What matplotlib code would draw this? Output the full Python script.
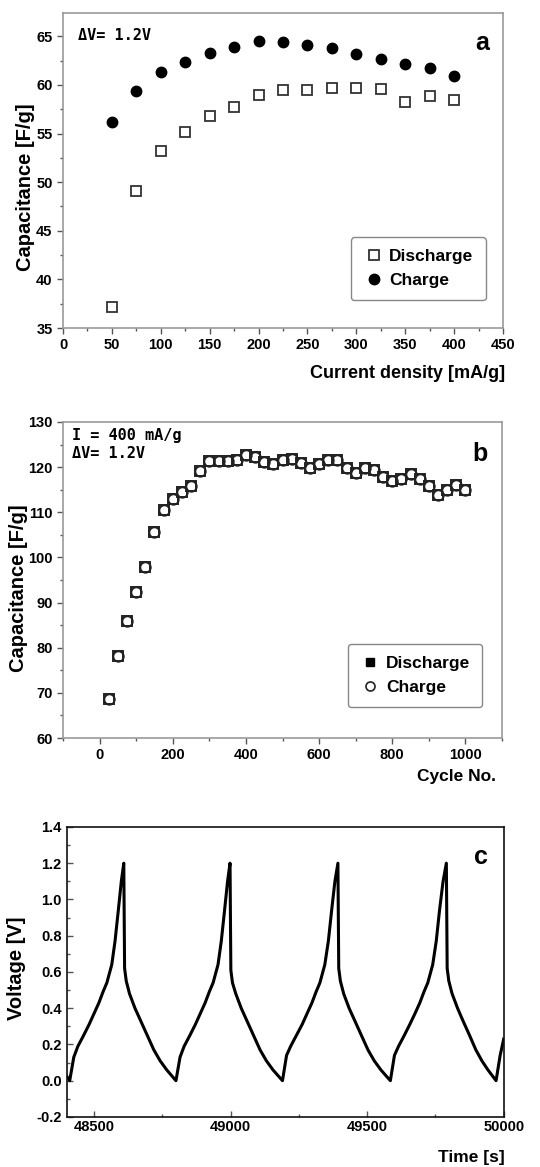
import matplotlib
matplotlib.use('Agg')
from matplotlib import pyplot as plt
from matplotlib.lines import Line2D
from matplotlib.ticker import MultipleLocator, FormatStrFormatter

plt.rcParams['font.family'] = ['Liberation Sans', 'DejaVu Sans']
plt.rcParams['font.weight'] = 'bold'

# (a) capacitance vs current density
current_density = [50, 75, 100, 125, 150, 175, 200, 225, 250, 275, 300, 325, 350, 375, 400]
cap_discharge_a = [37.2, 49.1, 53.2, 55.2, 56.8, 57.7, 59.0, 59.5, 59.5, 59.7, 59.7, 59.6, 58.2, 58.9, 58.5]
cap_charge_a = [56.2, 59.4, 61.3, 62.4, 63.3, 63.9, 64.5, 64.4, 64.1, 63.8, 63.2, 62.7, 62.2, 61.7, 60.9]

# (b) capacitance vs cycle number
cycle_no = [25, 50, 75, 100, 125, 150, 175, 200, 225, 250, 275, 300, 325, 350, 375, 400, 425, 450, 475, 500,
            525, 550, 575, 600, 625, 650, 675, 700, 725, 750, 775, 800, 825, 850, 875, 900, 925, 950, 975, 1000]
cap_discharge_b = [68.7, 78.1, 85.9, 92.3, 97.9, 105.6, 110.5, 112.9, 114.6, 115.9, 119.2, 121.3, 121.3, 121.3,
                   121.6, 122.6, 122.2, 121.2, 120.8, 121.6, 121.9, 120.9, 119.8, 120.6, 121.5, 121.5, 119.9,
                   118.8, 119.8, 119.4, 117.9, 116.9, 117.4, 118.4, 117.4, 115.9, 113.9, 115.0, 116.0, 115.0]
cap_charge_b = cap_discharge_b

# (c) voltage vs time
time_s = [48400, 48411, 48426, 48441, 48462, 48482, 48500, 48518, 48533, 48547, 48565, 48577, 48589, 48600, 48609,
          48612, 48618, 48630, 48650, 48671, 48695, 48719, 48742, 48766, 48800,
          48815, 48830, 48851, 48871, 48889, 48907, 48922, 48936, 48954, 48966, 48978, 48989, 48998,
          49001, 49007, 49019, 49039, 49060, 49084, 49108, 49131, 49155, 49190,
          49205, 49220, 49241, 49262, 49280, 49298, 49313, 49327, 49345, 49358, 49370, 49382, 49393,
          49396, 49402, 49414, 49434, 49455, 49479, 49503, 49526, 49550, 49585,
          49600, 49615, 49636, 49656, 49675, 49693, 49708, 49722, 49740, 49753, 49765, 49778, 49790,
          49793, 49799, 49811, 49831, 49851, 49875, 49898, 49920, 49942, 49972,
          49987, 50000]
voltage = [0.025, 0.0, 0.13, 0.19, 0.25, 0.31, 0.37, 0.43, 0.49, 0.54, 0.64, 0.77, 0.94, 1.10, 1.20,
           0.62, 0.55, 0.48, 0.40, 0.33, 0.25, 0.17, 0.11, 0.06, 0.0,
           0.13, 0.19, 0.25, 0.31, 0.37, 0.43, 0.49, 0.54, 0.64, 0.77, 0.94, 1.10, 1.20,
           0.61, 0.54, 0.48, 0.40, 0.33, 0.25, 0.17, 0.11, 0.06, 0.0,
           0.14, 0.19, 0.25, 0.31, 0.37, 0.43, 0.49, 0.54, 0.64, 0.77, 0.94, 1.10, 1.20,
           0.62, 0.55, 0.48, 0.40, 0.33, 0.25, 0.17, 0.11, 0.06, 0.0,
           0.14, 0.19, 0.25, 0.31, 0.37, 0.43, 0.49, 0.54, 0.64, 0.77, 0.94, 1.10, 1.20,
           0.62, 0.55, 0.48, 0.40, 0.33, 0.25, 0.17, 0.11, 0.06, 0.0,
           0.14, 0.23]

fig = plt.figure(figsize=(5.4, 11.67), dpi=100)
ax_a = fig.add_axes([0.1167, 0.7189, 0.8148, 0.27])
ax_b = fig.add_axes([0.1167, 0.3676, 0.813, 0.2708])
ax_c = fig.add_axes([0.1235, 0.0429, 0.8093, 0.2485])


def style_axes(ax, edge, direction='out'):
    for s in ax.spines.values():
        s.set_color(edge)
        s.set_linewidth(1.2)
    ax.tick_params(which='both', direction=direction, top=False, right=False, labelsize=10.5, width=1,
                   color='#555555')
    ax.tick_params(which='major', length=4)
    ax.tick_params(which='minor', length=2.5)
    for lab in ax.get_xticklabels() + ax.get_yticklabels():
        lab.set_fontweight('bold')


mono = ['DejaVu Sans Mono']

# ---- a ----
ax_a.plot(current_density, cap_discharge_a, 's', ms=6.5, mfc='white', mec='#333333', mew=1.3, label='Discharge')
ax_a.plot(current_density, cap_charge_a, 'o', ms=7.5, color='black', label='Charge')
ax_a.set_xlim(0, 450)
ax_a.set_ylim(35, 67.4)
ax_a.xaxis.set_major_locator(MultipleLocator(50))
ax_a.xaxis.set_minor_locator(MultipleLocator(25))
ax_a.yaxis.set_major_locator(MultipleLocator(5))
ax_a.yaxis.set_minor_locator(MultipleLocator(2.5))
style_axes(ax_a, '#999999')
ax_a.set_ylabel('Capacitance [F/g]', fontsize=14.5, fontweight='bold', va='center')
ax_a.yaxis.set_label_coords(-0.086, 0.446)
ax_a.set_xlabel('Current density [mA/g]', fontsize=13, fontweight='bold', ha='right', va='center')
ax_a.xaxis.set_label_coords(1.005, -0.143)
ax_a.text(0.034, 0.93, '\u0394V= 1.2V', transform=ax_a.transAxes, family=mono, fontsize=11, fontweight='bold',
          va='center')
ax_a.text(0.952, 0.905, 'a', transform=ax_a.transAxes, fontsize=18, fontweight='bold', ha='center', va='center')
leg = ax_a.legend(loc='lower right', bbox_to_anchor=(0.98, 0.06), fontsize=12.5, fancybox=True, framealpha=1,
                  edgecolor='#888888', handletextpad=0.3, borderpad=0.7, labelspacing=0.5, handlelength=1.2)
leg.get_frame().set_linewidth(1)

# ---- b ----
ax_b.plot(cycle_no, cap_discharge_b, 's', ms=6.5, mfc='white', mec='#222222', mew=1.4)
ax_b.plot(cycle_no, cap_charge_b, 'o', ms=7.5, mfc='none', mec='#222222', mew=1.4)
ax_b.set_xlim(-100, 1100)
ax_b.set_ylim(60, 130)
ax_b.xaxis.set_major_locator(MultipleLocator(200))
ax_b.xaxis.set_minor_locator(MultipleLocator(100))
ax_b.yaxis.set_major_locator(MultipleLocator(10))
ax_b.yaxis.set_minor_locator(MultipleLocator(5))
style_axes(ax_b, '#999999')
ax_b.set_ylabel('Capacitance [F/g]', fontsize=14.5, fontweight='bold', va='center')
ax_b.yaxis.set_label_coords(-0.1025, 0.475)
ax_b.set_xlabel('Cycle No.', fontsize=12.5, fontweight='bold', ha='right', va='center')
ax_b.xaxis.set_label_coords(0.986, -0.123)
ax_b.text(0.02, 0.958, 'I = 400 mA/g', transform=ax_b.transAxes, family=mono, fontsize=11, fontweight='bold',
          va='center')
ax_b.text(0.02, 0.90, '\u0394V= 1.2V', transform=ax_b.transAxes, family=mono, fontsize=11, fontweight='bold',
          va='center')
ax_b.text(0.95, 0.90, 'b', transform=ax_b.transAxes, fontsize=18, fontweight='bold', ha='center', va='center')
handles_b = [Line2D([], [], ls='none', marker='s', ms=6, color='black'),
             Line2D([], [], ls='none', marker='o', ms=6.5, mfc='white', mec='#222222', mew=1.2)]
leg = ax_b.legend(handles_b, ['Discharge', 'Charge'], loc='lower right', bbox_to_anchor=(0.975, 0.07),
                  fontsize=12.5, fancybox=True, framealpha=1, edgecolor='#888888', handletextpad=0.3,
                  borderpad=0.7, labelspacing=0.5, handlelength=1.2)
leg.get_frame().set_linewidth(1)

# ---- c ----
ax_c.plot(time_s, voltage, '-', color='black', lw=2.2)
ax_c.set_xlim(48400, 50000)
ax_c.set_ylim(-0.2, 1.4)
ax_c.xaxis.set_major_locator(MultipleLocator(500))
ax_c.xaxis.set_minor_locator(MultipleLocator(250))
ax_c.yaxis.set_major_locator(MultipleLocator(0.2))
ax_c.yaxis.set_minor_locator(MultipleLocator(0.1))
ax_c.yaxis.set_major_formatter(FormatStrFormatter('%.1f'))
style_axes(ax_c, '#111111', direction='in')
ax_c.tick_params(axis='x', pad=2)
ax_c.set_ylabel('Voltage [V]', fontsize=14.5, fontweight='bold', va='center')
ax_c.yaxis.set_label_coords(-0.114, 0.514)
ax_c.set_xlabel('Time [s]', fontsize=12.5, fontweight='bold', ha='right', va='center')
ax_c.xaxis.set_label_coords(1.002, -0.141)
ax_c.text(0.947, 0.896, 'c', transform=ax_c.transAxes, fontsize=18, fontweight='bold', ha='center', va='center')

fig.savefig('out.png', dpi=100)
